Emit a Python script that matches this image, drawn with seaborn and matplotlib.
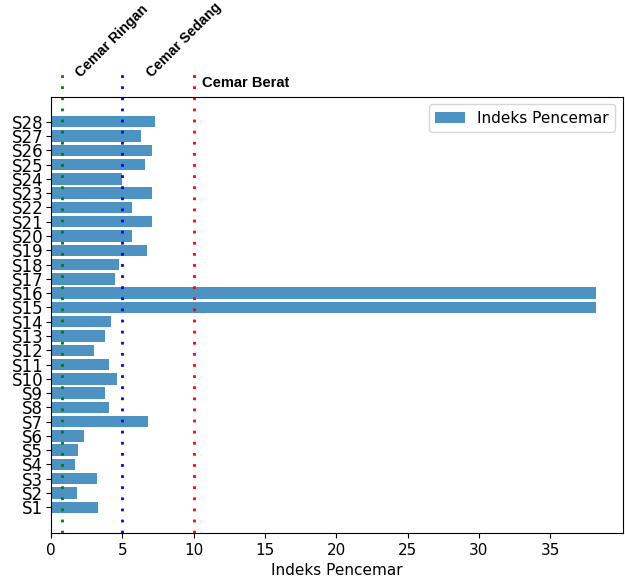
#!/usr/bin/env python3
"""
Horizontal bar chart of pollution index (Indeks Pencemar) per station.
"""
import matplotlib
matplotlib.use("Agg")
import matplotlib.pyplot as plt
import seaborn as sns
import pandas as pd

# Station labels and their pollution index values
stations = ['S%d' % i for i in range(1, 29)]
indeks = [3.3, 1.8, 3.2, 1.7, 1.9, 2.3, 6.8, 4.1, 3.8, 4.6,
          4.1, 3.0, 3.8, 4.2, 38.2, 38.2, 4.5, 4.8, 6.7, 5.7,
          7.1, 5.7, 7.1, 5.0, 6.6, 7.1, 6.3, 7.3]

# Class thresholds drawn as dotted vertical lines
batas_nama = ['Cemar Ringan', 'Cemar Sedang', 'Cemar Berat']
batas_nilai = [0.75, 5.0, 10.0]
batas_warna = ['green', 'blue', 'red']

df = pd.DataFrame({'station': stations, 'indeks': indeks})

fig = plt.figure(figsize=(6.25, 5.84), dpi=100)
ax = fig.add_axes([0.0816, 0.0873, 0.915, 0.747])

sns.barplot(data=df, x='indeks', y='station', order=stations[::-1],
            color='tab:blue', alpha=0.8, saturation=1, width=0.8, ax=ax,
            label='Indeks Pencemar', orient='h')

ax.set_ylim(27 + 1.8, -1.75)
ax.set_xlim(0, 40.1)
ax.set_xticks(range(0, 40, 5))
ax.set_ylabel('')
ax.set_xlabel('Indeks Pencemar', fontsize=11)
ax.tick_params(axis='y', labelsize=12, pad=2)
ax.tick_params(axis='x', labelsize=11)

# dotted threshold lines, running above the top of the axes
trans = ax.get_xaxis_transform()
for nilai, warna in zip(batas_nilai, batas_warna):
    ax.plot([nilai, nilai], [0, 1.065], transform=trans, color=warna,
            linestyle=(0, (1, 3)), linewidth=2, clip_on=False)

# threshold labels
ax.text(2.25, 1.039, batas_nama[0], transform=trans, rotation=45,
        rotation_mode='anchor', ha='left', va='bottom', fontsize=10.2,
        fontweight='bold', family='Liberation Sans')
ax.text(7.2, 1.039, batas_nama[1], transform=trans, rotation=45,
        rotation_mode='anchor', ha='left', va='bottom', fontsize=10.2,
        fontweight='bold', family='Liberation Sans')
ax.text(10.6, 1.032, batas_nama[2], transform=trans, ha='left',
        va='center', fontsize=10.5, fontweight='bold', family='Liberation Sans')

ax.legend(loc='upper right', fontsize=11)

fig.savefig('out.png', dpi=100)
